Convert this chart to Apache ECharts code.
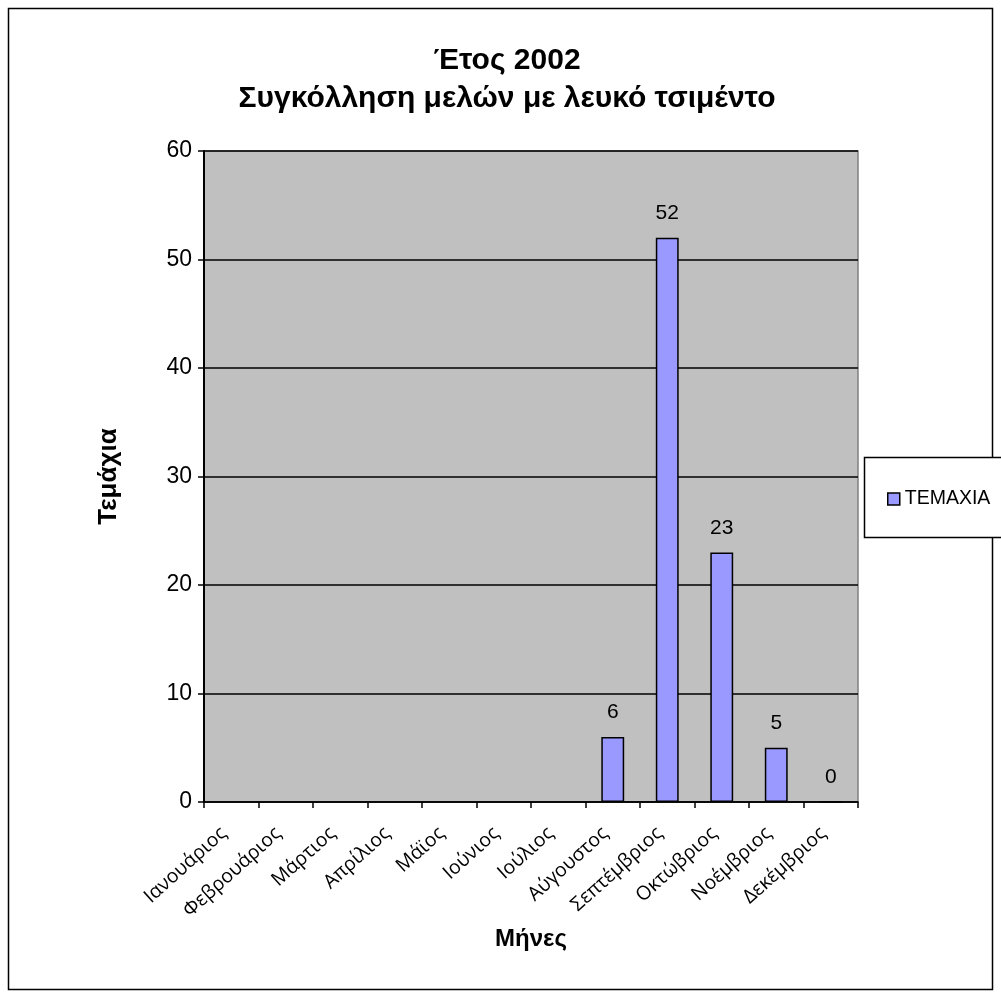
<!DOCTYPE html>
<html><head><meta charset="utf-8">
<script src="https://cdn.jsdelivr.net/npm/echarts@6/dist/echarts.min.js"></script>
<style>html,body{margin:0;padding:0;background:#fff}#c{width:1001px;height:998px}</style>
</head><body><div id="c"></div>
<script>
var categories = ['Ιανουάριος','Φεβρουάριος','Μάρτιος','Απρίλιος','Μάϊος','Ιούνιος','Ιούλιος','Αύγουστος','Σεπτέμβριος','Οκτώβριος','Νοέμβριος','Δεκέμβριος'];
var values = [null,null,null,null,null,null,null,6,52,23,5,0];
var seriesName = 'TEMAXIA';
var titleLines = ['Έτος 2002','Συγκόλληση μελών με λευκό τσιμέντο'];
var yTicks = [0,10,20,30,40,50,60];

var chart = echarts.init(document.getElementById('c'));
chart.setOption({
  animation:false,
  backgroundColor:'#fff',
  graphic:[
    {type:'rect',shape:{x:8.5,y:8.5,width:984,height:981},style:{fill:'none',stroke:'#000',lineWidth:1.5},z:-1},
    {type:'rect',shape:{x:864.5,y:457.5,width:145,height:80},style:{fill:'#fff',stroke:'#000',lineWidth:1.5},z:0}
  ],
  title:{text:titleLines.join('\n'),left:502,top:37,textAlign:'center',
    textStyle:{fontFamily:'Liberation Sans, Arial',fontSize:30,fontWeight:'bold',color:'#000',lineHeight:38}},
  legend:{left:882,top:484,itemWidth:12,itemHeight:12,itemGap:9,
    textStyle:{fontFamily:'Liberation Sans, Arial',fontSize:19.5,color:'#000'},
    data:[{name:seriesName,icon:'rect',itemStyle:{borderColor:'#000',borderWidth:1.5}}]},
  grid:{left:204,right:143,top:151,bottom:196,containLabel:false,show:true,backgroundColor:'#C0C0C0',borderColor:'#808080',borderWidth:1.5},
  xAxis:{type:'category',data:categories,
    name:'Μήνες',nameLocation:'middle',nameGap:118,
    nameTextStyle:{fontFamily:'Liberation Sans, Arial',fontSize:24,fontWeight:'bold',color:'#000'},
    axisLine:{lineStyle:{color:'#000',width:1.5}},
    axisTick:{show:true,alignWithLabel:false,length:6,lineStyle:{color:'#000',width:1.5}},
    axisLabel:{interval:0,rotate:42,margin:22,padding:[0,10,0,0],fontFamily:'Open Sans',fontSize:19.5,color:'#000'}},
  yAxis:{type:'value',min:0,max:60,interval:10,
    name:'Τεμάχια',nameLocation:'middle',nameGap:82,nameRotate:90,
    nameTextStyle:{fontFamily:'Liberation Sans, Arial',fontSize:26,fontWeight:'bold',color:'#000'},
    axisLine:{show:true,lineStyle:{color:'#000',width:2}},
    axisTick:{show:true,length:6,lineStyle:{color:'#000',width:1.5}},
    axisLabel:{margin:12,fontFamily:'Liberation Sans, Arial',fontSize:23,color:'#000',
      formatter:function(v){return yTicks.indexOf(v)>=0?String(v):'';}},
    splitLine:{lineStyle:{color:'#000',width:1.5}}},
  series:[{name:seriesName,type:'bar',data:values,barWidth:'42%',
    itemStyle:{color:'#9999FF',borderColor:'#000',borderWidth:1.5},
    label:{show:true,position:'top',distance:14,fontFamily:'Liberation Sans, Arial',fontSize:21,color:'#000'}}]
});
</script></body></html>
